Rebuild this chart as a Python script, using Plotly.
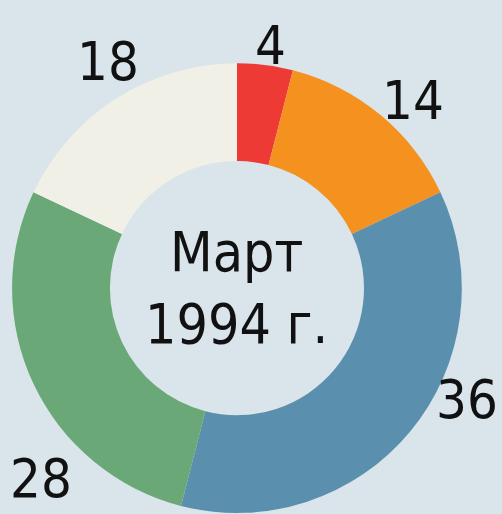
import plotly.graph_objects as go

# Данные
values = [4, 14, 36, 28, 18]
labels = ["4", "14", "36", "28", "18"]
colors = ["#ee3a35", "#f5921f", "#5b8fae", "#6aa877", "#f0f0e6"]
center_text = "Март<br>1994 г."

BG = "#d9e4eb"
FONT = "DejaVu Sans Condensed, DejaVu Sans, sans-serif"

# позиции подписей (доли полотна)
label_pos = [(0.538, 0.912), (0.822, 0.805), (0.930, 0.222), (0.082, 0.070), (0.215, 0.880)]

fig = go.Figure(go.Pie(
    values=values,
    labels=labels,
    hole=0.565,
    sort=False,
    direction="clockwise",
    rotation=0,
    textinfo="none",
    hoverinfo="label+value",
    marker=dict(colors=colors, line=dict(width=0)),
    domain=dict(x=[0.024, 0.920], y=[0.002, 0.877]),
    showlegend=False,
))

for lab, (px_, py_) in zip(labels, label_pos):
    fig.add_annotation(x=px_, y=py_, xref="paper", yref="paper", text=lab,
                       xanchor="center", yanchor="middle", showarrow=False,
                       font=dict(size=54, color="#111111", family=FONT))

fig.add_annotation(x=0.472, y=0.44, xref="paper", yref="paper", text=center_text,
                   xanchor="center", yanchor="middle", showarrow=False,
                   font=dict(size=55, color="#111111", family=FONT))

fig.update_layout(
    width=502, height=514,
    margin=dict(l=0, r=0, t=0, b=0),
    paper_bgcolor=BG,
    plot_bgcolor=BG,
)

# убрать отступ страницы
fig.write_html("out.html", post_script="document.body.style.margin='0';",
               config={"displayModeBar": False})
